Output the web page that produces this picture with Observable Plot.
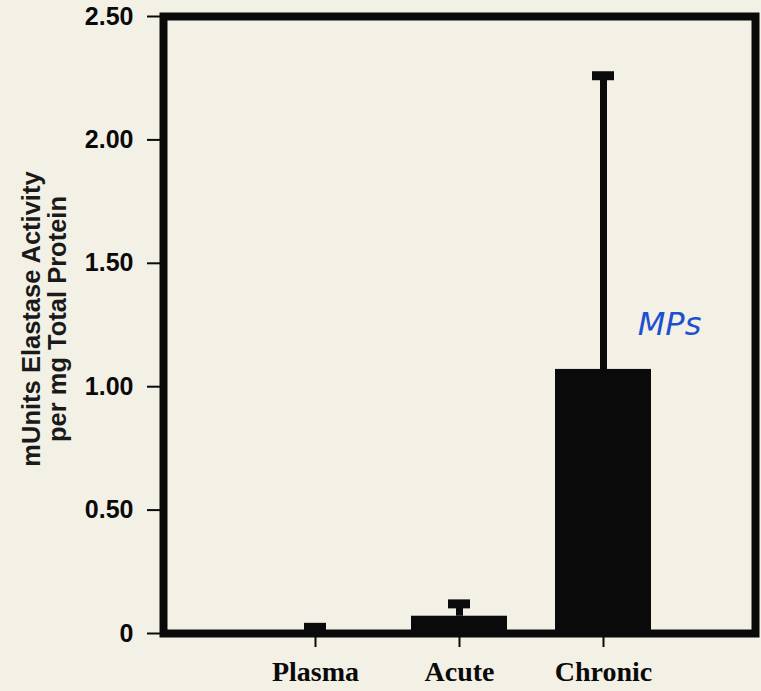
<!DOCTYPE html>
<html>
<head>
<meta charset="utf-8">
<script src="https://cdn.jsdelivr.net/npm/d3@7"></script>
<script src="https://cdn.jsdelivr.net/npm/@observablehq/plot@0.6"></script>
<style>
  html, body { margin: 0; padding: 0; background: #f3f1e6; }
  #chart svg { display: block; }
</style>
</head>
<body>
<div id="chart"></div>
<script>
// Data
const categories = ["Plasma", "Acute", "Chronic"];
const meanValues = [0.005, 0.07, 1.07];
const upperErrors = [0.025, 0.12, 2.26];
const yTicks = [0, 0.5, 1.0, 1.5, 2.0, 2.5];
const yTickLabels = ["0", "0.50", "1.00", "1.50", "2.00", "2.50"];
const yTitleLines = ["mUnits Elastase Activity", "per mg Total Protein"];
const annotationText = ["MPs"];
const annotationCategory = ["Chronic"];
const annotationY = [1.25];

const rows = categories.map((c, i) => ({cat: c, value: meanValues[i], upper: upperErrors[i]}));
const notes = annotationText.map((t, i) => ({text: t, cat: annotationCategory[i], y: annotationY[i]}));

const chart = Plot.plot({
  width: 761,
  height: 691,
  marginLeft: 163,
  marginRight: 6,
  marginTop: 16,
  marginBottom: 58,
  style: {background: "#f3f1e6", color: "#0a0a0a", fontFamily: "Liberation Sans, Arial, sans-serif"},
  x: {domain: categories, paddingInner: 0.33, paddingOuter: 0.71, label: null},
  y: {domain: [0, 2.5], label: null},
  marks: [
    Plot.barY(rows, {x: "cat", y: "value", fill: "#0a0a0a"}),
    Plot.ruleX(rows, {x: "cat", y1: "value", y2: "upper", stroke: "#0a0a0a", strokeWidth: 7}),
    Plot.tickY(rows, {x: "cat", y: "upper", stroke: "#0a0a0a", strokeWidth: 9, insetLeft: 37, insetRight: 37}),
    Plot.frame({stroke: "#0a0a0a", strokeWidth: 8}),
    Plot.axisY({
      ticks: yTicks,
      tickFormat: (d) => yTickLabels[yTicks.indexOf(d)],
      tickSize: 16,
      tickPadding: 14,
      strokeWidth: 2,
      fontSize: 25,
      fontWeight: "bold",
      fontFamily: "Liberation Sans, Arial, sans-serif",
      label: null
    }),
    Plot.axisX({
      tickSize: 14,
      tickPadding: 14,
      strokeWidth: 2,
      fontSize: 28,
      fontWeight: "bold",
      fontFamily: "Liberation Serif, Times New Roman, serif",
      label: null
    }),
    Plot.text([yTitleLines.join("\n")], {
      frameAnchor: "left",
      dx: -119,
      dy: -6,
      rotate: -90,
      textAnchor: "middle",
      lineAnchor: "middle",
      lineHeight: 1.02,
      fontSize: 25.5,
      fontWeight: "bold",
      fontFamily: "Liberation Sans, Arial, sans-serif",
      fill: "#1a1a1a"
    }),
    Plot.text(notes, {
      x: "cat",
      y: "y",
      text: "text",
      dx: 66,
      fontSize: 32,
      fontStyle: "italic",
      fontFamily: "DejaVu Sans, sans-serif",
      fill: "#1d4fd0"
    })
  ]
});

document.getElementById("chart").appendChild(chart);
</script>
</body>
</html>
